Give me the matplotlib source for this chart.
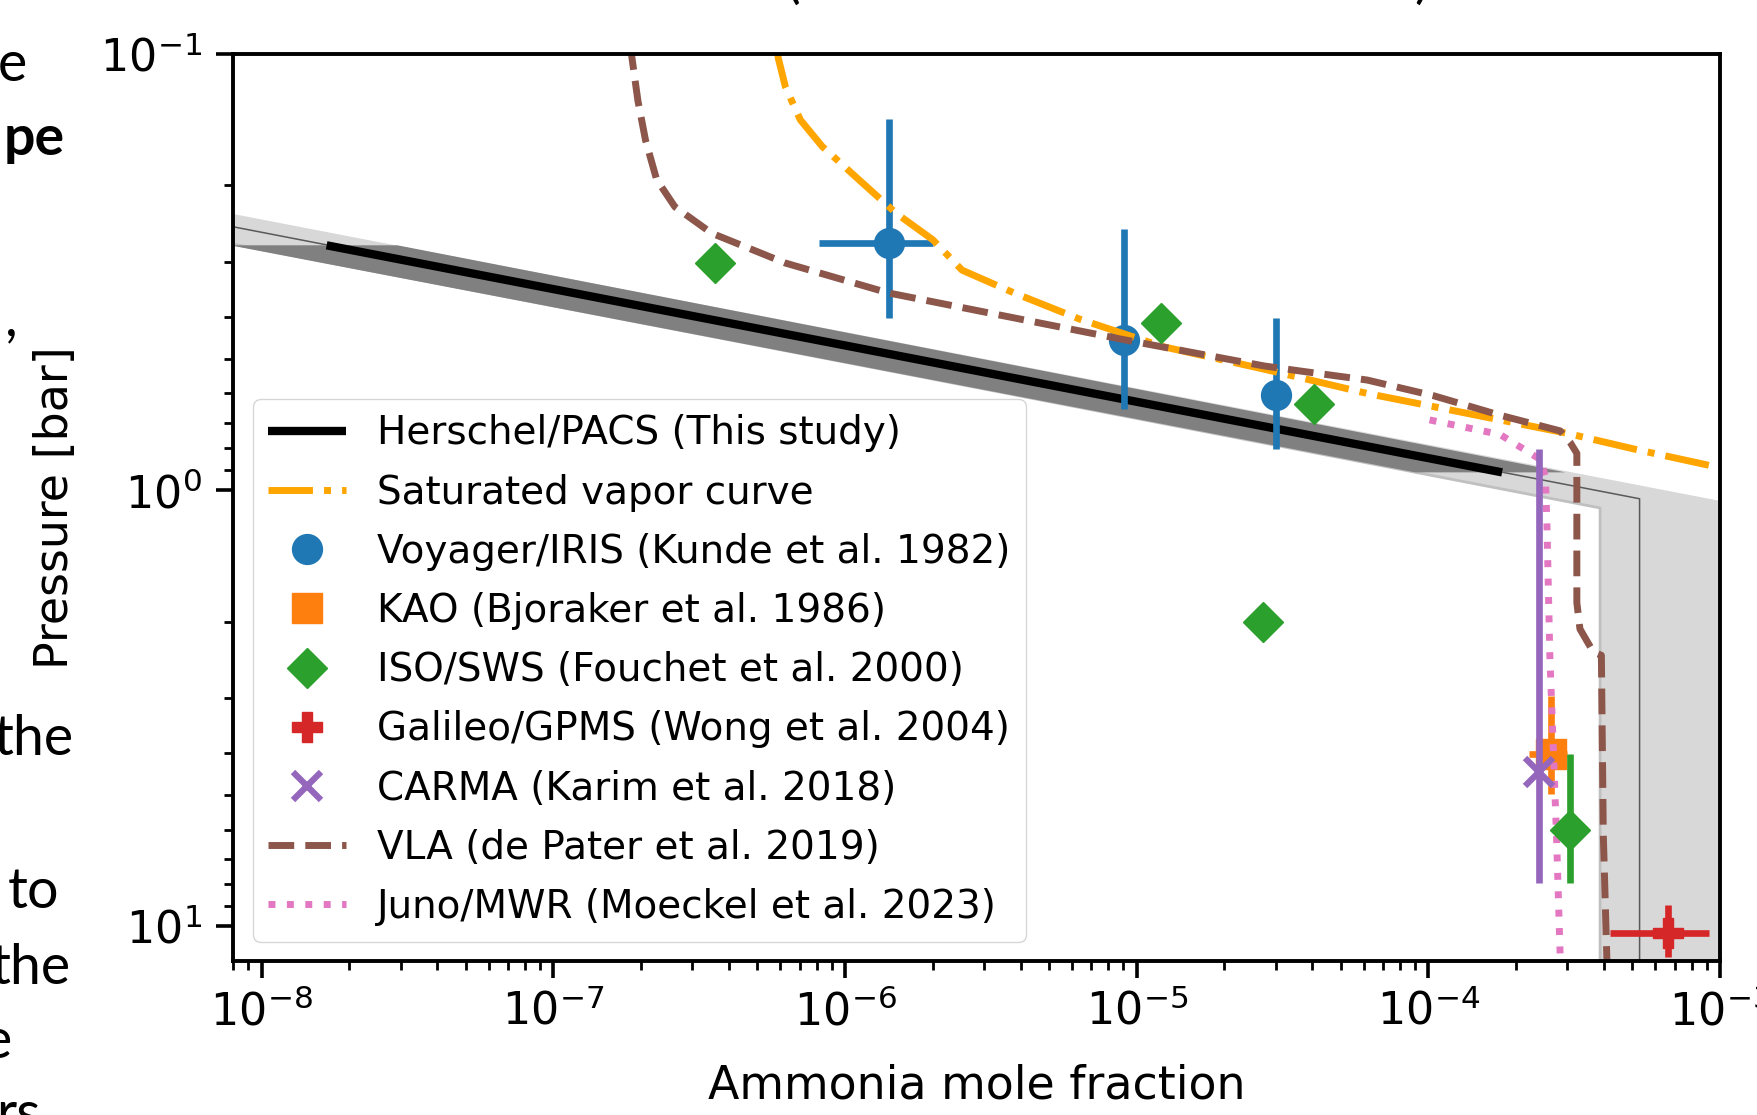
import numpy as np
import matplotlib
matplotlib.use("Agg")
import matplotlib.pyplot as plt

# ---------------- data ----------------
# Herschel/PACS retrieved profile (straight in log-log)
herschel_x = [1.67e-8, 1.79e-4]
herschel_p = [0.2745, 0.91]
# retrieval uncertainty band (dark grey)
band_p = [0.2745, 0.91]
band_lo = [7.8e-9, 9.0e-5]
band_hi = [2.92e-8, 2.95e-4]
# a priori profile (thin grey line) and its range (light grey)
apriori_x = [8.0e-9, 5.3e-4, 5.3e-4]
apriori_p = [0.249, 1.046, 12.5]
prior_p = [0.20, 1.098, 1.157, 12.5]
prior_lo = [7.2e-10, 3.88e-4, 3.88e-4, 3.88e-4]
prior_hi = [2.47e-9, 1.335e-3, 2.0e-3, 2.0e-3]

# Saturated vapor curve
sat_x = [5.85e-7, 5.90e-7, 6.25e-7, 7.03e-7, 8.36e-7, 1.12e-6, 1.50e-6, 2.00e-6,
         2.52e-6, 3.80e-6, 6.42e-6, 1.22e-5, 2.74e-5, 3.64e-5, 6.17e-5, 1.04e-4,
         1.76e-4, 2.98e-4, 5.05e-4, 9.62e-4, 1.1e-3]
sat_p = [0.095, 0.102, 0.119, 0.1416, 0.163, 0.1946, 0.232, 0.2666,
         0.313, 0.353, 0.406, 0.468, 0.528, 0.552, 0.600, 0.643,
         0.690, 0.740, 0.804, 0.883, 0.900]

# Voyager/IRIS
voy_x = [1.41e-6, 9.02e-6, 3.01e-5]
voy_p = [0.2715, 0.452, 0.604]
voy_xlo = [8.13e-7, 9.02e-6, 2.75e-5]
voy_xhi = [2.0e-6, 9.02e-6, 3.3e-5]
voy_plo = [0.1406, 0.252, 0.403]
voy_phi = [0.403, 0.653, 0.804]

# KAO
kao_x = [2.63e-4]
kao_p = [4.03]
kao_xlo = [2.22e-4]
kao_xhi = [2.98e-4]
kao_plo = [2.97]
kao_phi = [4.96]

# ISO/SWS
iso_x = [3.57e-7, 1.21e-5, 4.05e-5, 2.72e-5, 3.06e-4]
iso_p = [0.3015, 0.414, 0.636, 2.01, 6.01]
iso_err_x = [3.06e-4]
iso_err_p = [6.01]
iso_err_plo = [4.03]
iso_err_phi = [7.97]

# Galileo/GPMS
gal_x = [6.65e-4]
gal_p = [10.33]
gal_xlo = [4.2e-4]
gal_xhi = [9.18e-4]
gal_plo = [8.95]
gal_phi = [11.75]

# CARMA
carma_x = [2.4e-4]
carma_p = [4.43]
carma_plo = [0.804]
carma_phi = [7.97]

# VLA
vla_x = [1.84e-7, 1.86e-7, 1.95e-7, 2.07e-7, 2.26e-7, 2.61e-7, 3.49e-7, 6.25e-7,
         1.41e-6, 3.58e-6, 9.08e-6, 2.74e-5, 3.64e-5, 6.17e-5, 1.04e-4, 1.76e-4,
         2.83e-4, 3.06e-4, 3.23e-4, 3.23e-4, 3.23e-4, 3.31e-4, 3.68e-4, 3.92e-4,
         3.98e-4, 4.09e-4, 4.10e-4]
vla_p = [0.095, 0.102, 0.128, 0.1575, 0.194, 0.224, 0.2575, 0.3015,
         0.353, 0.3995, 0.452, 0.519, 0.533, 0.559, 0.607, 0.673,
         0.731, 0.776, 0.823, 1.19, 1.81, 2.08, 2.35, 2.39,
         6.15, 11.6, 12.5]

# Juno/MWR
juno_x = [1.01e-4, 1.76e-4, 2.42e-4, 2.52e-4, 2.55e-4, 2.61e-4, 2.68e-4, 2.75e-4, 2.84e-4]
juno_p = [0.69, 0.745, 0.850, 0.93, 1.19, 2.40, 3.85, 6.15, 12.5]

labels = ["Herschel/PACS (This study)", "Saturated vapor curve",
          "Voyager/IRIS (Kunde et al. 1982)", "KAO (Bjoraker et al. 1986)",
          "ISO/SWS (Fouchet et al. 2000)", "Galileo/GPMS (Wong et al. 2004)",
          "CARMA (Karim et al. 2018)", "VLA (de Pater et al. 2019)",
          "Juno/MWR (Moeckel et al. 2023)"]

# ---------------- helpers ----------------
def asym(v, lo, hi):
    v, lo, hi = np.asarray(v), np.asarray(lo), np.asarray(hi)
    return np.vstack([v - lo, hi - v])

W, H = 1757, 1115
fig = plt.figure(figsize=(W / 100, H / 100), dpi=100)
ax = fig.add_axes([233.4 / W, 1 - 961 / H, (1720 - 233.4) / W, (961 - 54) / H])
ax.set_xscale('log')
ax.set_yscale('log')

MS = 21.5
ELW = 4.8

# a priori range + a priori + retrieval band + retrieval
ax.fill_betweenx(prior_p, prior_lo, prior_hi, facecolor='#d8d8d8',
                 linewidth=0, zorder=1)
ax.plot(prior_lo, prior_p, color='#c0c0c0', lw=2, zorder=1.1)
ax.plot(apriori_x, apriori_p, color='0.35', lw=1.1, zorder=1.2)
ax.fill_betweenx(band_p, band_lo, band_hi, facecolor='#808080', linewidth=0, zorder=1.4)
h_her, = ax.plot(herschel_x, herschel_p, color='black', lw=6,
                 solid_capstyle='butt', zorder=1.6)

# saturated vapor curve
h_sat, = ax.plot(sat_x, sat_p, color='orange', ls='-.', lw=5, zorder=2.5)

# Voyager
ax.errorbar(voy_x, voy_p, xerr=asym(voy_x, voy_xlo, voy_xhi),
            yerr=asym(voy_p, voy_plo, voy_phi), fmt='none', ecolor='C0',
            elinewidth=ELW, capsize=0, zorder=2.0)
h_voy, = ax.plot(voy_x, voy_p, 'o', color='C0', ms=MS, zorder=2.1)

# KAO
ax.errorbar(kao_x, kao_p, xerr=asym(kao_x, kao_xlo, kao_xhi),
            yerr=asym(kao_p, kao_plo, kao_phi), fmt='none', ecolor='C1',
            elinewidth=ELW, capsize=0, zorder=2.0)
h_kao, = ax.plot(kao_x, kao_p, 's', color='C1', ms=MS, zorder=2.1)

# ISO
ax.errorbar(iso_err_x, iso_err_p, yerr=asym(iso_err_p, iso_err_plo, iso_err_phi),
            fmt='none', ecolor='C2', elinewidth=ELW, capsize=0, zorder=2.65)
h_iso, = ax.plot(iso_x, iso_p, 'D', color='C2', ms=MS * 0.97, zorder=2.7)

# Galileo
ax.errorbar(gal_x, gal_p, xerr=asym(gal_x, gal_xlo, gal_xhi),
            yerr=asym(gal_p, gal_plo, gal_phi), fmt='none', ecolor='C3',
            elinewidth=ELW, capsize=0, zorder=2.65)
h_gal, = ax.plot(gal_x, gal_p, 'P', color='C3', ms=MS, zorder=2.7)

# CARMA
ax.errorbar(carma_x, carma_p, yerr=asym(carma_p, carma_plo, carma_phi),
            fmt='none', ecolor='C4', elinewidth=ELW, capsize=0, zorder=2.6)
h_carma, = ax.plot(carma_x, carma_p, 'x', color='C4', ms=MS * 0.95, mew=4.5, zorder=2.6)

# VLA and Juno
h_vla, = ax.plot(vla_x, vla_p, color='C5', ls='--', lw=5, zorder=2.5)
h_juno, = ax.plot(juno_x, juno_p, color='C6', ls=':', lw=5, zorder=2.55)

ax.set_xlim(8e-9, 1e-3)
ax.set_ylim(12, 0.1)

for s in ax.spines.values():
    s.set_linewidth(2.8)
ax.tick_params(which='major', length=12.5, width=2.6, labelsize=32, pad=8)
ax.tick_params(which='minor', length=6.5, width=2.0)
ax.tick_params(axis='y', which='major', pad=10)

ax.set_xlabel('Ammonia mole fraction', fontsize=33, labelpad=21)
ax.set_ylabel('Pressure [bar]', fontsize=33, labelpad=16)

ax.legend([h_her, h_sat, h_voy, h_kao, h_iso, h_gal, h_carma, h_vla, h_juno],
          labels, loc='lower left', fontsize=28, labelspacing=0.545)

# fragments of the surrounding slide text visible at the edges of the screenshot
frag = [("e", 27, 81, 'normal'), ("pe", 65, 155, 'bold'), (",", 18, 335, 'normal'),
        ("the", 74, 755, 'normal'), ("to", 59, 908, 'normal'), ("the", 71, 984, 'normal'),
        ("e", 12, 1058, 'normal'), ("rs", 40, 1131, 'normal')]
for s, xr, yb, wt in frag:
    fig.text(xr / W, 1 - yb / H, s, ha='right', va='baseline', fontsize=40,
             family='Lato', fontweight=wt)
for s, xc in [("(", 793), (")", 1422)]:
    fig.text(xc / W, 1 + 3 / H, s, ha='center', va='baseline', fontsize=40, family='Lato')

fig.savefig('out.png', dpi=100)
